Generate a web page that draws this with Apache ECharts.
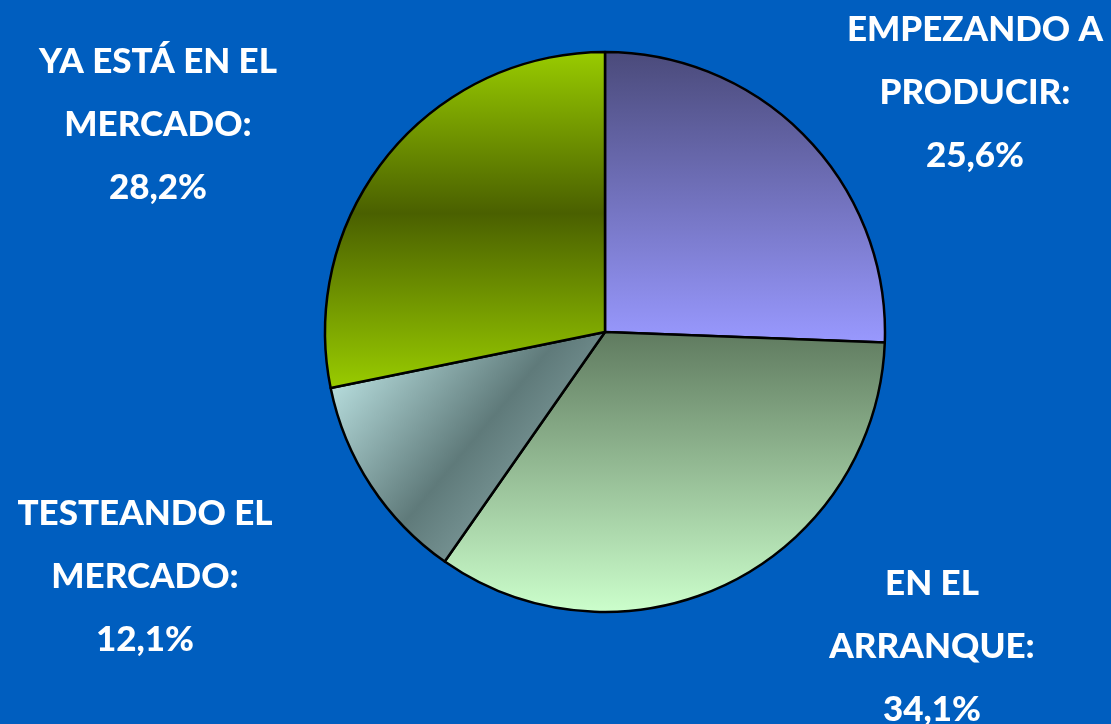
<!DOCTYPE html>
<html>
<head>
<meta charset="utf-8">
<script src="https://cdn.jsdelivr.net/npm/echarts@6/dist/echarts.min.js"></script>
<style>
  html, body { margin: 0; padding: 0; background: #005ebf; }
  .echarts { width: 1111px; height: 724px; }
</style>
</head>
<body>
<div class="echarts"></div>
<script>
// datos del gráfico
const categories = ['EMPEZANDO A\nPRODUCIR', 'EN EL\nARRANQUE', 'TESTEANDO EL\nMERCADO', 'YA ESTÁ EN EL\nMERCADO'];
const values = [25.6, 34.1, 12.1, 28.2];

// posición de cada etiqueta (centro del bloque de texto)
const labelPos = [[975, 93], [932, 647], [145, 577], [158, 125]];

const fills = [
    { type: 'linear', x: 0, y: 0, x2: 0, y2: 1, colorStops: [
        { offset: 0, color: '#4a4a7a' }, { offset: 1, color: '#9999ff' }] },
    { type: 'linear', x: 0, y: 0, x2: 0, y2: 1, colorStops: [
        { offset: 0, color: '#5f7a5f' }, { offset: 1, color: '#ccffcc' }] },
    { type: 'linear', x: 0, y: 0, x2: 1, y2: 1, colorStops: [
        { offset: 0, color: '#ccf5f5' }, { offset: 0.5, color: '#5f7a7a' }, { offset: 1, color: '#a0c0c0' }] },
    { type: 'linear', x: 0, y: 0, x2: 0, y2: 1, colorStops: [
        { offset: 0, color: '#99cc00' }, { offset: 0.48, color: '#4a6000' }, { offset: 1, color: '#99cc00' }] }
];

window.addEventListener('load', function () {
    let myChart = echarts.init(document.querySelector('.echarts'));

    let seriesData = categories.map(function (name, i) {
        return {
            name: name,
            value: values[i],
            itemStyle: { color: fills[i] }
        };
    });

    myChartOption = {
        backgroundColor: '#005ebf',
        animation: false,
        series: [{
            type: 'pie',
            center: [605, 332],
            radius: 280,
            startAngle: 90,
            clockwise: true,
            data: seriesData,
            itemStyle: {
                borderColor: '#000',
                borderWidth: 2.5
            },
            label: {
                show: true,
                position: 'inside',
                color: '#fff',
                fontFamily: 'Lato',
                fontWeight: 900,
                fontSize: 35,
                lineHeight: 63,
                align: 'center',
                overflow: 'none',
                formatter: function (p) {
                    return p.name + ':\n' + p.value.toFixed(1).replace('.', ',') + '%';
                }
            },
            labelLine: { show: false },
            labelLayout: function (p) {
                let pos = labelPos[p.dataIndex];
                return { x: pos[0], y: pos[1], align: 'center', verticalAlign: 'middle' };
            },
            emphasis: { disabled: true }
        }]
    };
    myChart.setOption(myChartOption);
});
</script>
</body>
</html>
